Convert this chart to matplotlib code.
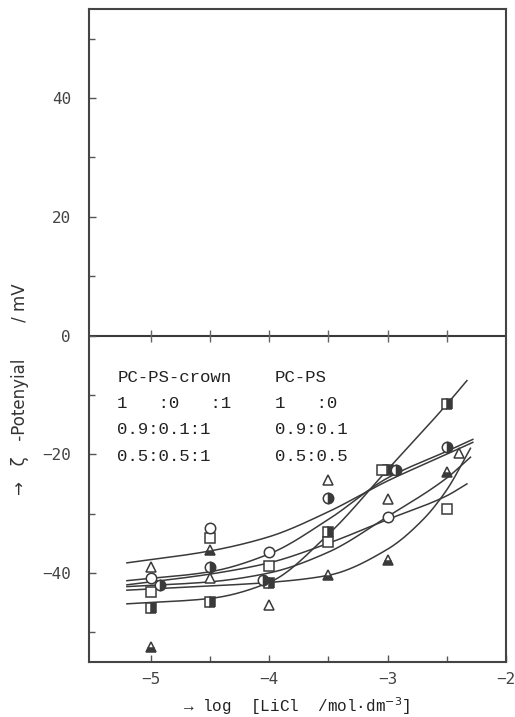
import numpy as np
import matplotlib
matplotlib.use("Agg")
from matplotlib import pyplot as plt

# measured points (log[LiCl], zeta potential / mV)
x_sq_half = [-5.0, -4.5, -4.0, -3.5, -3.0, -2.5]
y_sq_half = [-45.9, -44.9, -41.7, -33.1, -22.6, -11.6]
x_sq_open = [-5.0, -4.5, -4.0, -3.5, -3.05, -2.5]
y_sq_open = [-43.2, -34.1, -38.8, -34.8, -22.6, -29.2]
x_ci_open = [-5.0, -4.5, -4.0, -3.0]
y_ci_open = [-40.8, -32.4, -36.5, -30.5]
x_ci_half = [-4.92, -4.5, -4.05, -3.5, -2.93, -2.5]
y_ci_half = [-42.0, -39.0, -41.2, -27.4, -22.6, -18.8]
x_tr_open = [-5.0, -4.5, -4.0, -3.5, -3.0, -2.4]
y_tr_open = [-39.0, -40.8, -45.4, -24.4, -27.5, -19.8]
x_tr_half = [-5.0, -4.5, -3.5, -3.0, -2.5]
y_tr_half = [-52.4, -36.1, -40.4, -37.8, -23.0]

# fitted curves
cx1 = [-5.2, -4.5, -4.0, -3.5, -3.0, -2.5, -2.33]
cy1 = [-45.2, -44.3, -41.6, -33.5, -22.6, -11.6, -7.6]
cx2 = [-5.2, -4.5, -4.0, -3.5, -3.0, -2.5, -2.28]
cy2 = [-38.3, -36.3, -33.9, -29.7, -24.5, -20.0, -18.0]
cx3 = [-5.2, -4.5, -4.0, -3.5, -3.0, -2.5, -2.28]
cy3 = [-41.3, -39.8, -36.8, -31.0, -24.0, -19.5, -17.5]
cx4 = [-5.2, -4.5, -4.0, -3.5, -3.0, -2.5, -2.33]
cy4 = [-42.0, -40.2, -38.3, -35.0, -31.0, -27.0, -25.0]
cx5 = [-5.2, -4.5, -4.0, -3.5, -3.0, -2.5, -2.3]
cy5 = [-42.3, -41.5, -40.0, -36.5, -30.5, -24.0, -20.5]
cx6 = [-5.2, -4.5, -4.0, -3.5, -3.0, -2.7, -2.5, -2.3]
cy6 = [-42.9, -42.2, -41.6, -40.4, -36.0, -31.0, -26.0, -19.0]

legend_head = ["PC-PS-crown", "PC-PS"]
legend_left = ["1   :0   :1", "0.9:0.1:1", "0.5:0.5:1"]
legend_right = ["1   :0", "0.9:0.1", "0.5:0.5"]

zero_ticks = [-5.0, -4.5, -4.0, -3.5, -3.0, -2.5]


def smooth(xp, yp, n=200):
    # monotone cubic (Fritsch-Carlson) through the read points
    xp = np.asarray(xp, float)
    yp = np.asarray(yp, float)
    h = np.diff(xp)
    d = np.diff(yp) / h
    m = np.zeros_like(yp)
    m[0], m[-1] = d[0], d[-1]
    for k in range(1, len(xp) - 1):
        if d[k-1] * d[k] > 0:
            w1 = 2*h[k] + h[k-1]
            w2 = h[k] + 2*h[k-1]
            m[k] = (w1 + w2) / (w1/d[k-1] + w2/d[k])
    xs = np.linspace(xp[0], xp[-1], n)
    i = np.clip(np.searchsorted(xp, xs) - 1, 0, len(xp) - 2)
    t = (xs - xp[i]) / h[i]
    h00 = 2*t**3 - 3*t**2 + 1
    h10 = t**3 - 2*t**2 + t
    h01 = -2*t**3 + 3*t**2
    h11 = t**3 - t**2
    ys = h00*yp[i] + h10*h[i]*m[i] + h01*yp[i+1] + h11*h[i]*m[i+1]
    return xs, ys


ink = "#3a3a3a"
fig = plt.figure(figsize=(5.15, 7.17), dpi=100)
ax = fig.add_axes([89/515, 1-662/717, (506-89)/515, (662-9)/717])

for cx, cy in [(cx1, cy1), (cx2, cy2), (cx3, cy3), (cx4, cy4), (cx5, cy5), (cx6, cy6)]:
    xs, ys = smooth(cx, cy)
    ax.plot(xs, ys, color=ink, lw=1.1, zorder=2)

ms = 7.5
common = dict(ls="none", markeredgecolor=ink, markeredgewidth=1.1, ms=ms, zorder=3)
ax.plot(x_sq_half, y_sq_half, marker="s", fillstyle="right", markerfacecolor=ink,
        markerfacecoloralt="white", **common)
ax.plot(x_sq_open, y_sq_open, marker="s", markerfacecolor="white", **common)
ax.plot(x_ci_open, y_ci_open, marker="o", markerfacecolor="white", **common)
ax.plot(x_ci_half, y_ci_half, marker="o", fillstyle="right", markerfacecolor=ink,
        markerfacecoloralt="white", **common)
ax.plot(x_tr_open, y_tr_open, marker="^", markerfacecolor="white", **common)
ax.plot(x_tr_half, y_tr_half, marker="^", fillstyle="bottom", markerfacecolor=ink,
        markerfacecoloralt="white", **common)

# zero line with its own crossing ticks
ax.axhline(0, color=ink, lw=1.5, zorder=1)
ax.plot(zero_ticks, np.zeros(len(zero_ticks)), ls="none", marker="|", ms=9,
        markeredgewidth=1.0, color="#666666", zorder=1)

ax.set_xlim(-5.52, -2.0)
ax.set_ylim(-55, 55)
ax.set_xticks([-5, -4, -3, -2])
ax.set_xticks([-4.5, -3.5, -2.5], minor=True)
ax.set_yticks([-40, -20, 0, 20, 40])
ax.set_yticks([-50, -30, -10, 10, 30, 50], minor=True)
ax.set_xticklabels(["\u22125", "\u22124", "\u22123", "\u22122"])
ax.set_yticklabels(["\u221240", "\u221220", "0", "20", "40"])
ax.tick_params(which="both", direction="in", top=False, right=False, color="#555555",
               labelcolor="#444444", labelsize=11.5)
ax.tick_params(which="major", length=5, width=1.0)
ax.tick_params(which="minor", length=4, width=1.0)
ax.tick_params(axis="y", pad=13)
ax.tick_params(axis="x", pad=7)
for lab in ax.get_xticklabels() + ax.get_yticklabels():
    lab.set_family("DejaVu Sans Mono")
for s in ax.spines.values():
    s.set_color("#444444")
    s.set_linewidth(1.5)

# legend text (symbols lost in the original)
mono = "Liberation Mono"
ax.text(-5.28, -7.0, legend_head[0], family=mono, fontsize=12.5, color="#222222", va="center")
ax.text(-3.95, -7.0, legend_head[1], family=mono, fontsize=12.5, color="#222222", va="center")
for i, (a, b) in enumerate(zip(legend_left, legend_right)):
    yy = -11.4 - 4.45 * i
    ax.text(-5.28, yy, a, family=mono, fontsize=12.5, color="#222222", va="center")
    ax.text(-3.95, yy, b, family=mono, fontsize=12.5, color="#222222", va="center")

fig.text(20/515, 1-389/717, "\u2192   \u03b6   -Potenyial       / mV", rotation=90,
         ha="center", va="center", fontsize=12, color="#333333")
fig.text(297/515, 1-712/717, "\u2192 log  [LiCl  /mol\u00b7dm$^{-3}$]", ha="center",
         va="baseline", family=mono, fontsize=11.5, color="#222222")

fig.savefig("out.png", dpi=100)
